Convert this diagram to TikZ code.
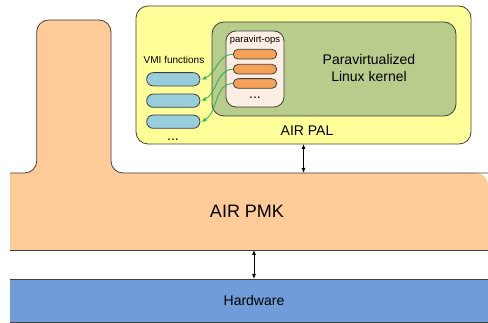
\documentclass[tikz,border=0pt]{standalone}
\usepackage{fontspec}
\setmainfont{Liberation Sans}
\usetikzlibrary{arrows.meta}
\definecolor{palY}{HTML}{FFFF99}
\definecolor{kerG}{HTML}{B8CC8C}
\definecolor{opsP}{HTML}{FDEEE4}
\definecolor{pillO}{HTML}{F6A15A}
\definecolor{pillB}{HTML}{98CEDC}
\definecolor{pmkO}{HTML}{FFCC99}
\definecolor{hwB}{HTML}{709DDA}
\definecolor{arrG}{HTML}{1DB44A}
\definecolor{edgeC}{HTML}{404040}
\begin{document}
\begin{tikzpicture}[x=1pt,y=-1pt,
  box/.style={draw=edgeC,line width=0.8pt,inner sep=0pt,outer sep=0pt,rounded corners=12pt},
  opill/.style={draw=edgeC,line width=0.8pt,fill=pillO,inner sep=0pt,outer sep=0pt,minimum width=43.4pt,minimum height=9.7pt,rounded corners=4.8pt},
  bpill/.style={draw=edgeC,line width=0.8pt,fill=pillB,inner sep=0pt,outer sep=0pt,minimum width=53.3pt,minimum height=13.3pt,rounded corners=6.6pt},
  lbl/.style={inner sep=0pt,anchor=base},
  garr/.style={draw=arrG,line width=0.8pt,-{Stealth[length=5pt,width=4pt]}},
  barr/.style={draw=black,line width=0.8pt,{Latex[length=5pt,width=4pt]}-{Latex[length=5pt,width=4pt]}}]
\useasboundingbox (0,0) rectangle (488,323);
% PMK shape
\fill[pmkO,rounded corners=12pt] (10,173) -- (36.7,173) -- (36.7,20) -- (111,20) -- (111,173) -- (488,173) [sharp corners] -- (488,250) -- (10,250) -- cycle;
\draw[edgeC,line width=0.8pt,rounded corners=12pt] (10,173) -- (36.7,173) -- (36.7,20) -- (111,20) -- (111,173) -- (488,173);
\draw[edgeC,line width=0.8pt] (10,250) -- (488,250);
\coordinate (pmktop) at (303.5,173);
\coordinate (pmkbot) at (254,250);
\node[lbl,font=\fontsize{18}{20}\selectfont] (pmklbl) at (247,218) {AIR PMK};
% Hardware
\node[fill=hwB,inner sep=0pt,outer sep=0pt,minimum width=478pt,minimum height=43.3pt] (hw) at (249,300.65) {};
\draw[edgeC,line width=0.8pt] (hw.north west) -- (hw.north east);
\draw[edgeC,line width=0.8pt] (hw.south west) -- (hw.south east);
\node[lbl,font=\fontsize{14}{16}\selectfont] (hwlbl) at (254,306) {Hardware};
% PAL
\node[box,fill=palY,minimum width=335pt,minimum height=138pt] (pal) at (303.5,75) {};
\node[lbl,font=\fontsize{14}{16}\selectfont] (pallbl) at (307,136) {AIR PAL};
% kernel
\node[box,fill=kerG,minimum width=244pt,minimum height=94pt] (ker) at (334,69) {};
\node[lbl,font=\fontsize{14}{16}\selectfont] (kl1) at (369,65) {Paravirtualized};
\node[lbl,font=\fontsize{14}{16}\selectfont] (kl2) at (369,81.7) {Linux kernel};
% paravirt-ops
\node[box,rounded corners=10pt,fill=opsP,minimum width=58pt,minimum height=76pt] (ops) at (255,69) {};
\node[lbl,font=\fontsize{9.5}{11}\selectfont] (opslbl) at (255,42.5) {paravirt-ops};
\node[opill] (o1) at (255,54.2) {};
\node[opill] (o2) at (255,69.2) {};
\node[opill] (o3) at (255,83.5) {};
\node[lbl,font=\fontsize{14}{16}\selectfont] (odots) at (255,99) {...};
% VMI
\node[lbl,font=\fontsize{10}{12}\selectfont] (vmilbl) at (174,63.3) {VMI functions};
\node[bpill] (b1) at (173.3,79.3) {};
\node[bpill] (b2) at (173.3,100.7) {};
\node[bpill] (b3) at (173.3,121.7) {};
\node[lbl,font=\fontsize{14}{16}\selectfont] (bdots) at (173,140.7) {...};
% green arrows
\draw[garr] (o1.west) to[out=180,in=20] ([xshift=2pt]b1.east);
\draw[garr] (o2.west) to[out=180,in=25] ([xshift=2pt]b2.east);
\draw[garr] (o3.west) to[out=180,in=30] ([xshift=2pt]b3.east);
% black arrows
\draw[barr] (pal.south) -- (pmktop);
\draw[barr] (pmkbot) -- (pmkbot |- hw.north);
\end{tikzpicture}
\end{document}
